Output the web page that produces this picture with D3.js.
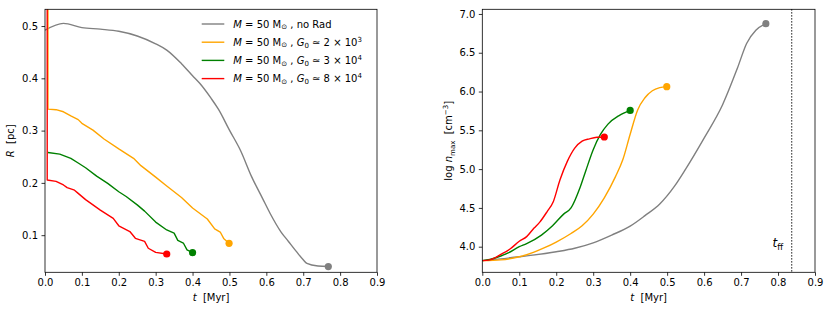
<!DOCTYPE html>
<html><head><meta charset="utf-8">
<script src="https://cdn.jsdelivr.net/npm/d3@7"></script>
<style>
body{margin:0;background:#fff;}
text{font-family:"DejaVu Sans",sans-serif;fill:#000;}
</style></head>
<body><svg id="c" width="830" height="311"></svg>
<script>
// ---- data ----
const xTicks = [0.0,0.1,0.2,0.3,0.4,0.5,0.6,0.7,0.8,0.9];
const rTicks = [0.1,0.2,0.3,0.4,0.5];
const nTicks = [4.0,4.5,5.0,5.5,6.0,6.5,7.0];
const tff = 0.837;

const grayRt = [0,0.05,0.1,0.15,0.2,0.25,0.3,0.33,0.37,0.4,0.42,0.45,0.47,0.5,0.53,0.56,0.59,0.61,0.64,0.66,0.68,0.7,0.71,0.74,0.768];
const grayR  = [0.492,0.505,0.497,0.494,0.490,0.481,0.466,0.454,0.428,0.405,0.390,0.362,0.341,0.301,0.262,0.212,0.170,0.142,0.106,0.088,0.070,0.053,0.046,0.041,0.040];
const orangeRt = [0.008,0.008,0.03,0.05,0.07,0.09,0.1,0.13,0.16,0.2,0.24,0.26,0.3,0.33,0.37,0.4,0.44,0.46,0.475,0.485,0.499];
const orangeR  = [0.60,0.341,0.340,0.336,0.328,0.321,0.314,0.301,0.284,0.265,0.247,0.233,0.211,0.194,0.172,0.152,0.131,0.112,0.106,0.093,0.0845];
const greenRt = [0.008,0.04,0.07,0.09,0.11,0.14,0.17,0.2,0.22,0.25,0.27,0.3,0.33,0.35,0.36,0.375,0.385,0.4];
const greenR  = [0.258,0.255,0.247,0.238,0.229,0.213,0.199,0.183,0.174,0.158,0.146,0.125,0.110,0.104,0.090,0.085,0.072,0.0665];
const redRt = [0.006,0.006,0.03,0.05,0.06,0.08,0.09,0.11,0.15,0.185,0.2,0.23,0.245,0.27,0.28,0.3,0.33];
const redR  = [0.60,0.2055,0.203,0.196,0.191,0.186,0.180,0.168,0.148,0.132,0.118,0.107,0.094,0.088,0.075,0.067,0.064];

const grayNt = [0,0.1,0.2,0.25,0.3,0.35,0.4,0.44,0.48,0.52,0.55,0.6,0.65,0.69,0.715,0.74,0.767];
const grayN  = [3.82,3.87,3.935,3.98,4.05,4.15,4.265,4.40,4.55,4.78,5.00,5.40,5.83,6.30,6.62,6.79,6.875];
const orangeNt = [0,0.05,0.1,0.14,0.17,0.2,0.24,0.27,0.3,0.33,0.36,0.38,0.4,0.42,0.44,0.46,0.48,0.499];
const orangeN  = [3.82,3.83,3.87,3.93,3.99,4.06,4.17,4.27,4.42,4.63,4.90,5.12,5.45,5.76,5.92,6.01,6.05,6.063];
const greenNt = [0,0.02,0.05,0.07,0.1,0.12,0.16,0.19,0.22,0.24,0.265,0.28,0.3,0.32,0.34,0.37,0.4];
const greenN  = [3.82,3.835,3.88,3.92,4.0,4.04,4.15,4.27,4.42,4.50,4.77,4.98,5.25,5.45,5.58,5.69,5.757];
const redNt = [0,0.02,0.05,0.075,0.1,0.12,0.14,0.156,0.175,0.192,0.21,0.23,0.25,0.27,0.29,0.31,0.33];
const redN  = [3.82,3.83,3.90,3.97,4.07,4.13,4.24,4.32,4.45,4.58,4.86,5.10,5.27,5.36,5.39,5.41,5.414];

const seriesNames = ["gray","orange","green","red"];
const seriesColors = ["#808080","#FFA500","#008000","#FF0000"];
const legendLabels = [
  {G:null},
  {G:"2", e:"3"},
  {G:"3", e:"4"},
  {G:"8", e:"4"}
];

const Rdata = [[grayRt,grayR],[orangeRt,orangeR],[greenRt,greenR],[redRt,redR]];
const Ndata = [[grayNt,grayN],[orangeNt,orangeN],[greenNt,greenN],[redNt,redN]];

// ---- layout ----
const svg = d3.select("#c");
const yTop = 9.3, yBot = 272.3;
const P1 = {l:45, r:377};
const P2 = {l:482.3, r:815};
const NB = "\u00a0";

function panel(P, ydom, yticks, yfmt, data, curves, id) {
  const x = d3.scaleLinear().domain([0,0.9]).range([P.l,P.r]);
  const y = d3.scaleLinear().domain(ydom).range([yBot,yTop]);
  const g = svg.append("g");
  g.append("clipPath").attr("id",id).append("rect")
    .attr("x",P.l).attr("y",yTop).attr("width",P.r-P.l).attr("height",yBot-yTop);
  const ax = g.append("g").attr("transform",`translate(0,${yBot})`)
    .call(d3.axisBottom(x).tickValues(xTicks).tickFormat(d3.format(".1f")).tickSizeOuter(0).tickSize(3.5).tickPadding(3.5));
  const ay = g.append("g").attr("transform",`translate(${P.l},0)`)
    .call(d3.axisLeft(y).tickValues(yticks).tickFormat(d3.format(yfmt)).tickSizeOuter(0).tickSize(3.5).tickPadding(3.5));
  [ax,ay].forEach(a=>{a.select(".domain").remove();
    a.selectAll("text").style("font-family","DejaVu Sans").style("font-size","10px");
    a.selectAll("line").attr("stroke","#000").attr("stroke-width",0.8);});
  const lines = g.append("g").attr("clip-path",`url(#${id})`);
  data.forEach((d,i)=>{
    const pts = d[0].map((t,k)=>[t,d[1][k]]);
    lines.append("path").datum(pts)
      .attr("d", d3.line().x(p=>x(p[0])).y(p=>y(p[1])).curve(curves[i]))
      .attr("fill","none").attr("stroke",seriesColors[i]).attr("stroke-width",1.4)
      .attr("stroke-linejoin","round");
  });
  data.forEach((d,i)=>{
    const n = d[0].length-1;
    g.append("circle").attr("cx",x(d[0][n])).attr("cy",y(d[1][n])).attr("r",3.6)
      .attr("fill",seriesColors[i]);
  });
  g.append("rect").attr("x",P.l).attr("y",yTop).attr("width",P.r-P.l).attr("height",yBot-yTop)
    .attr("fill","none").attr("stroke","#000").attr("stroke-width",0.8);
  const xl = g.append("text").attr("x",(P.l+P.r)/2).attr("y",301).attr("text-anchor","middle").style("font-size","10px");
  xl.append("tspan").style("font-style","italic").text("t");
  xl.append("tspan").text(NB+NB+"[Myr]");
  return {x,y,g};
}

const L = d3.curveLinear, M = d3.curveMonotoneX;
const A = panel(P1,[0.029,0.532],rTicks,".1f",Rdata,[M,L,L,L],"clipA");
const B = panel(P2,[3.67,7.06],nTicks,".1f",Ndata,[M,M,M,M],"clipB");

const yl1 = svg.append("text").attr("transform",`translate(14,${(yTop+yBot)/2}) rotate(-90)`)
  .attr("text-anchor","middle").style("font-size","10px");
yl1.append("tspan").style("font-style","italic").text("R");
yl1.append("tspan").text(NB+NB+"[pc]");

const yl2 = svg.append("text").attr("transform",`translate(452,${(yTop+yBot)/2}) rotate(-90)`)
  .attr("text-anchor","middle").style("font-size","10px");
yl2.append("tspan").text("log"+NB);
yl2.append("tspan").style("font-style","italic").text("n");
yl2.append("tspan").attr("dy",2.5).style("font-size","7px").text("max");
yl2.append("tspan").attr("dy",-2.5).text(NB+NB+"[cm");
yl2.append("tspan").attr("dy",-4).style("font-size","7px").text("−3");
yl2.append("tspan").attr("dy",4).text("]");

B.g.append("line").attr("x1",B.x(tff)).attr("x2",B.x(tff)).attr("y1",yTop).attr("y2",yBot)
  .attr("stroke","#000").attr("stroke-width",1.1).attr("stroke-dasharray","1.2,1.8");
const tl = B.g.append("text").attr("x",B.x(tff)-14).attr("y",247).attr("text-anchor","middle").style("font-size","12px");
tl.append("tspan").style("font-style","italic").text("t");
tl.append("tspan").attr("dy",2.5).style("font-size","8.5px").text("ff");

const lg = svg.append("g");
legendLabels.forEach((Lb,i)=>{
  const yy = 24 + i*18.2;
  lg.append("line").attr("x1",201.7).attr("x2",224.3).attr("y1",yy).attr("y2",yy)
    .attr("stroke",seriesColors[i]).attr("stroke-width",1.4);
  const t = lg.append("text").attr("x",233.3).attr("y",yy+3.6).style("font-size","10px");
  t.append("tspan").style("font-style","italic").text("M");
  t.append("tspan").text(NB+"="+NB+"50"+NB+"M");
  t.append("tspan").attr("dy",1.5).style("font-size","7px").text("⊙");
  t.append("tspan").attr("dy",-1.5).text(NB+","+NB);
  if (Lb.G===null) {
    t.append("tspan").text("no"+NB+"Rad");
  } else {
    t.append("tspan").style("font-style","italic").text("G");
    t.append("tspan").attr("dy",2).style("font-size","7px").text("0");
    t.append("tspan").attr("dy",-2).text(NB+"≃"+NB+Lb.G+NB+"×"+NB+"10");
    t.append("tspan").attr("dy",-4).style("font-size","7px").text(Lb.e);
  }
});
</script>
</body></html>
